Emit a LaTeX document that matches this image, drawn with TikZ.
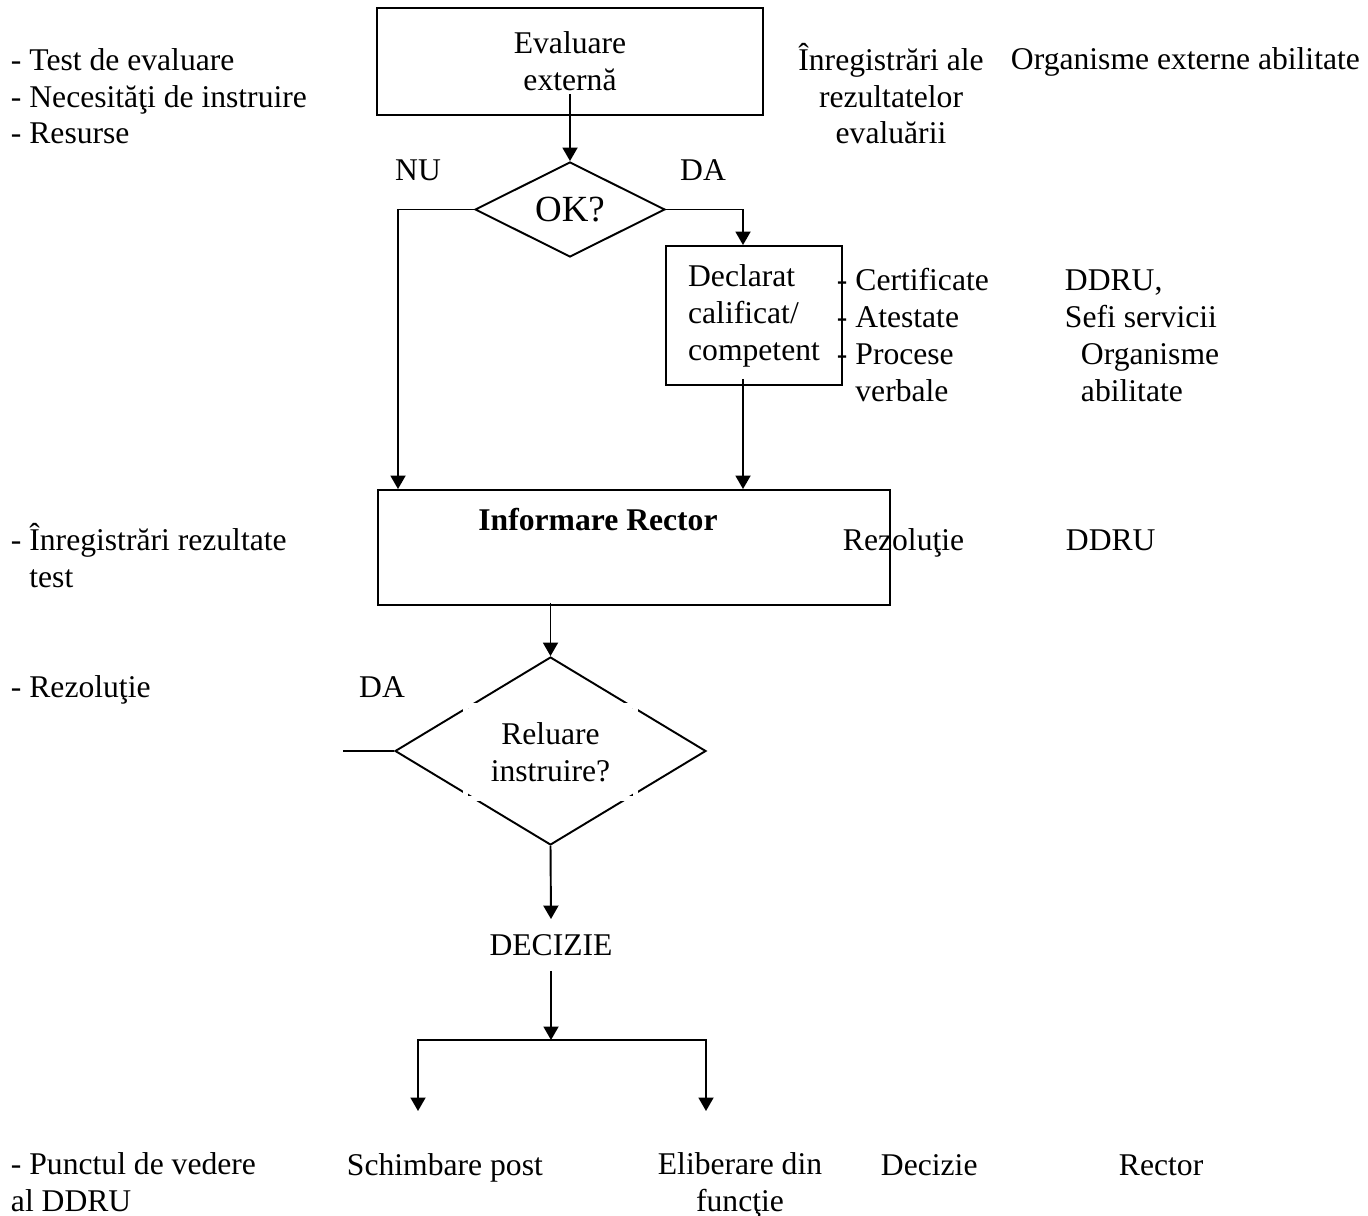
\documentclass[tikz,border=0pt]{standalone}
\usepackage{fontspec}
\setmainfont{Liberation Serif}
\usetikzlibrary{arrows.meta,shapes.geometric,positioning,calc}

\tikzset{
  arr/.style={-{Triangle[length=0.27cm,width=0.3cm]}},
  txt/.style={inner sep=0pt,anchor=base west,align=left},
  boxnode/.style={draw,inner sep=0pt},
  question/.style={draw,diamond,inner sep=0pt},
}

\begin{document}
\begin{tikzpicture}[x=0.02cm,y=-0.02cm,line width=1.1pt,font=\fontsize{18}{21}\selectfont]
\useasboundingbox (0,0) rectangle (1368,1216);

\node[boxnode,minimum width=7.72cm,minimum height=2.14cm,align=center] (eval) at (570,61.5) {Evaluare\\externă};
\node[question,minimum width=3.8cm,minimum height=1.9cm,font=\fontsize{21}{24}\selectfont] (ok) at (570,209.5) {OK?};
\node[boxnode,minimum width=3.52cm,minimum height=2.78cm,align=left] (decl) at (754,315.5) {Declarat\\calificat/\\competent};
\node[boxnode,minimum width=10.24cm,minimum height=2.3cm] (info) at (634,547.5) {};
\node[txt,anchor=base] (infotxt) at (598,530) {\bfseries Informare Rector};
\node[question,minimum width=6.22cm,minimum height=3.76cm] (reluare) at (550.5,751) {};
\node[draw=white,line width=0.1cm,minimum width=3.42cm,minimum height=1.86cm,align=center] (reluaretxt) at (550.5,752) {Reluare\\instruire?};
\node[inner sep=0pt,minimum height=1cm] (decizie) at (551,945) {DECIZIE};

\coordinate (nu) at (398,0);
\coordinate (da) at (743,0);
\coordinate (stub) at (343,751);
\coordinate (split) at (551,1040);
\coordinate (schimbare) at (418,1111);
\coordinate (eliberare) at (706,1111);

\draw[arr] ([yshift=0.44cm]eval.south) -- (ok.north);
\draw[arr] (ok.west) -| (info.north -| nu);
\draw[arr] (ok.east) -| (decl.north -| da);
\draw[arr] ($(decl.south -| da)+(0,-7)$) -- (info.north -| da);
\draw[arr] ($(info.south -| reluare.north)+(0,-3)$) -- (reluare.north);
\draw (reluare.west) -- (stub);
\draw[arr] (reluare.south) -- (decizie.north);
\draw[arr] (decizie.south) -- (split);
\draw[arr] (split) -| (schimbare);
\draw[arr] (split) -| (eliberare);

\node[txt] (tests) at (10,144) {- Test de evaluare\\- Necesităţi de instruire\\- Resurse};
\node[txt,align=center,anchor=base] (inreg) at (891,144) {Înregistrări ale\\rezultatelor\\evaluării};
\node[txt] (org) at (1010,70) {Organisme externe abilitate};
\node[txt,anchor=base] (nulbl) at (418,181) {NU};
\node[txt,anchor=base] (dalbl) at (703,181) {DA};
\node[txt] (docs) at (836,401) {- Certificate\\- Atestate\\- Procese\\\phantom{- }verbale};
\node[txt] (resp) at (1064,327) {DDRU,\\Sefi servicii};
\node[txt] (resp2) at (1080,401) {Organisme\\abilitate};
\node[txt] (inregtest) at (10,587) {- Înregistrări rezultate\\\phantom{- }test};
\node[txt] (rez) at (842,550) {Rezoluţie};
\node[txt] (ddru) at (1065,550) {DDRU};
\node[txt] (rezl) at (10,697) {- Rezoluţie};
\node[txt,anchor=base] (dalbl2) at (382,697) {DA};

\node[txt] (punct) at (10,1211) {- Punctul de vedere\\al DDRU};
\node[txt] (schimb) at (346,1175) {Schimbare post};
\node[txt,align=center,anchor=base] (elib) at (740,1211) {Eliberare din\\funcţie};
\node[txt] (dec) at (880,1175) {Decizie};
\node[txt] (rector) at (1118,1175) {Rector};

\end{tikzpicture}
\end{document}
